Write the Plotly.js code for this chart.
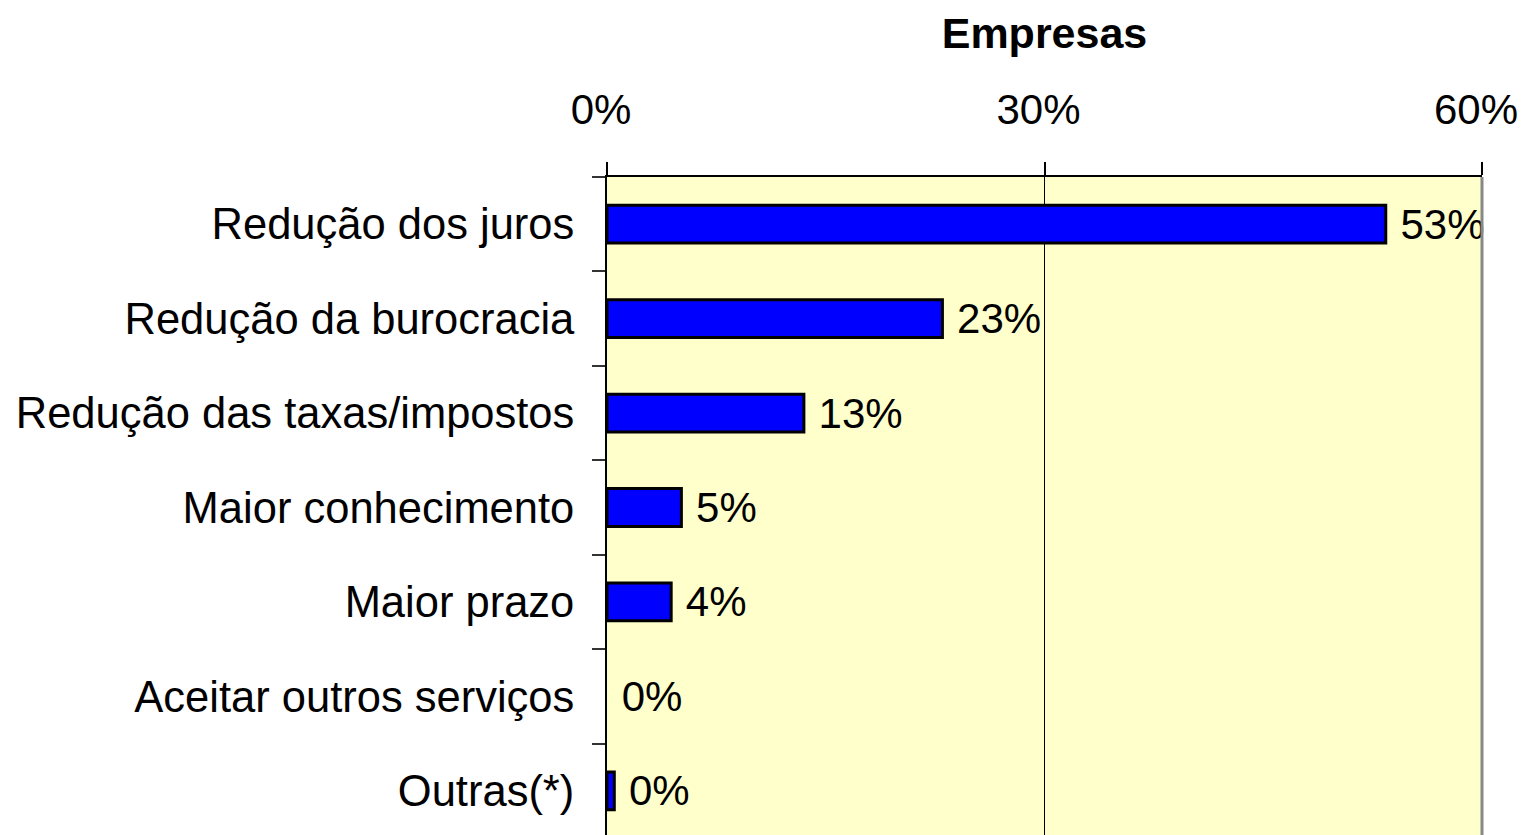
<!DOCTYPE html>
<html>
<head>
<meta charset="utf-8">
<script src="https://cdn.plot.ly/plotly-3.0.1.min.js"></script>
<style>html,body{margin:0;padding:0;overflow:hidden;background:#fff}</style>
</head>
<body>
<div id="chart" style="width:1522px;height:840px"></div>
<script>
const categories = ["Redução dos juros","Redução da burocracia","Redução das taxas/impostos","Maior conhecimento","Maior prazo","Aceitar outros serviços","Outras(*)"];
const values = [53.4, 23.0, 13.5, 5.1, 4.4, 0, 0.5];
const valueLabels = ["53%","23%","13%","5%","4%","0%","0%"];
const xTicks = [0, 30, 60];

const FONT = "Liberation Sans, Arial, sans-serif";

Plotly.newPlot("chart", [{
  type: "bar",
  orientation: "h",
  y: categories,
  x: values,
  text: valueLabels,
  texttemplate: " %{text}",
  textposition: "outside",
  constraintext: "none",
  textfont: {family: FONT, size: 42, color: "#000"},
  cliponaxis: false,
  width: 0.4,
  marker: {color: "#0000FF", line: {color: "#000", width: values.map(v => v > 0 ? 3 : 0)}},
  hoverinfo: "none"
}], {
  width: 1522, height: 840,
  margin: {l: 607, r: 40, t: 177, b: 2},
  paper_bgcolor: "#fff",
  plot_bgcolor: "#FFFFCC",
  showlegend: false,
  font: {family: FONT, color: "#000"},
  xaxis: {
    side: "top",
    range: [0, 60],
    tickvals: xTicks,
    ticktext: xTicks.map(v => v + "%"),
    tickfont: {size: 42},
    ticklabeloverflow: "allow",
    ticklabelshift: -6,
    showgrid: true, gridcolor: "#000", gridwidth: 1,
    zeroline: false,
    showline: true, linecolor: "#000", linewidth: 2,
    ticks: "outside", ticklen: 13, tickcolor: "#000", tickwidth: 2,
    ticklabelstandoff: 21,
    title: {text: "Empresas", font: {size: 43, family: FONT, weight: "bold"}, standoff: 24}
  },
  yaxis: {
    type: "category",
    autorange: "reversed",
    tickfont: {size: 43.5},
    showgrid: false,
    zeroline: false,
    showline: true, linecolor: "#000", linewidth: 2,
    ticks: "outside", tickson: "boundaries", ticklen: 13, tickcolor: "#333", tickwidth: 2,
    ticklabelstandoff: 22
  },
  shapes: [{type: "line", xref: "paper", yref: "paper", x0: 1, x1: 1, y0: 0, y1: 1, line: {color: "#888", width: 3}}]
}, {displayModeBar: false, staticPlot: true});
</script>
</body>
</html>
